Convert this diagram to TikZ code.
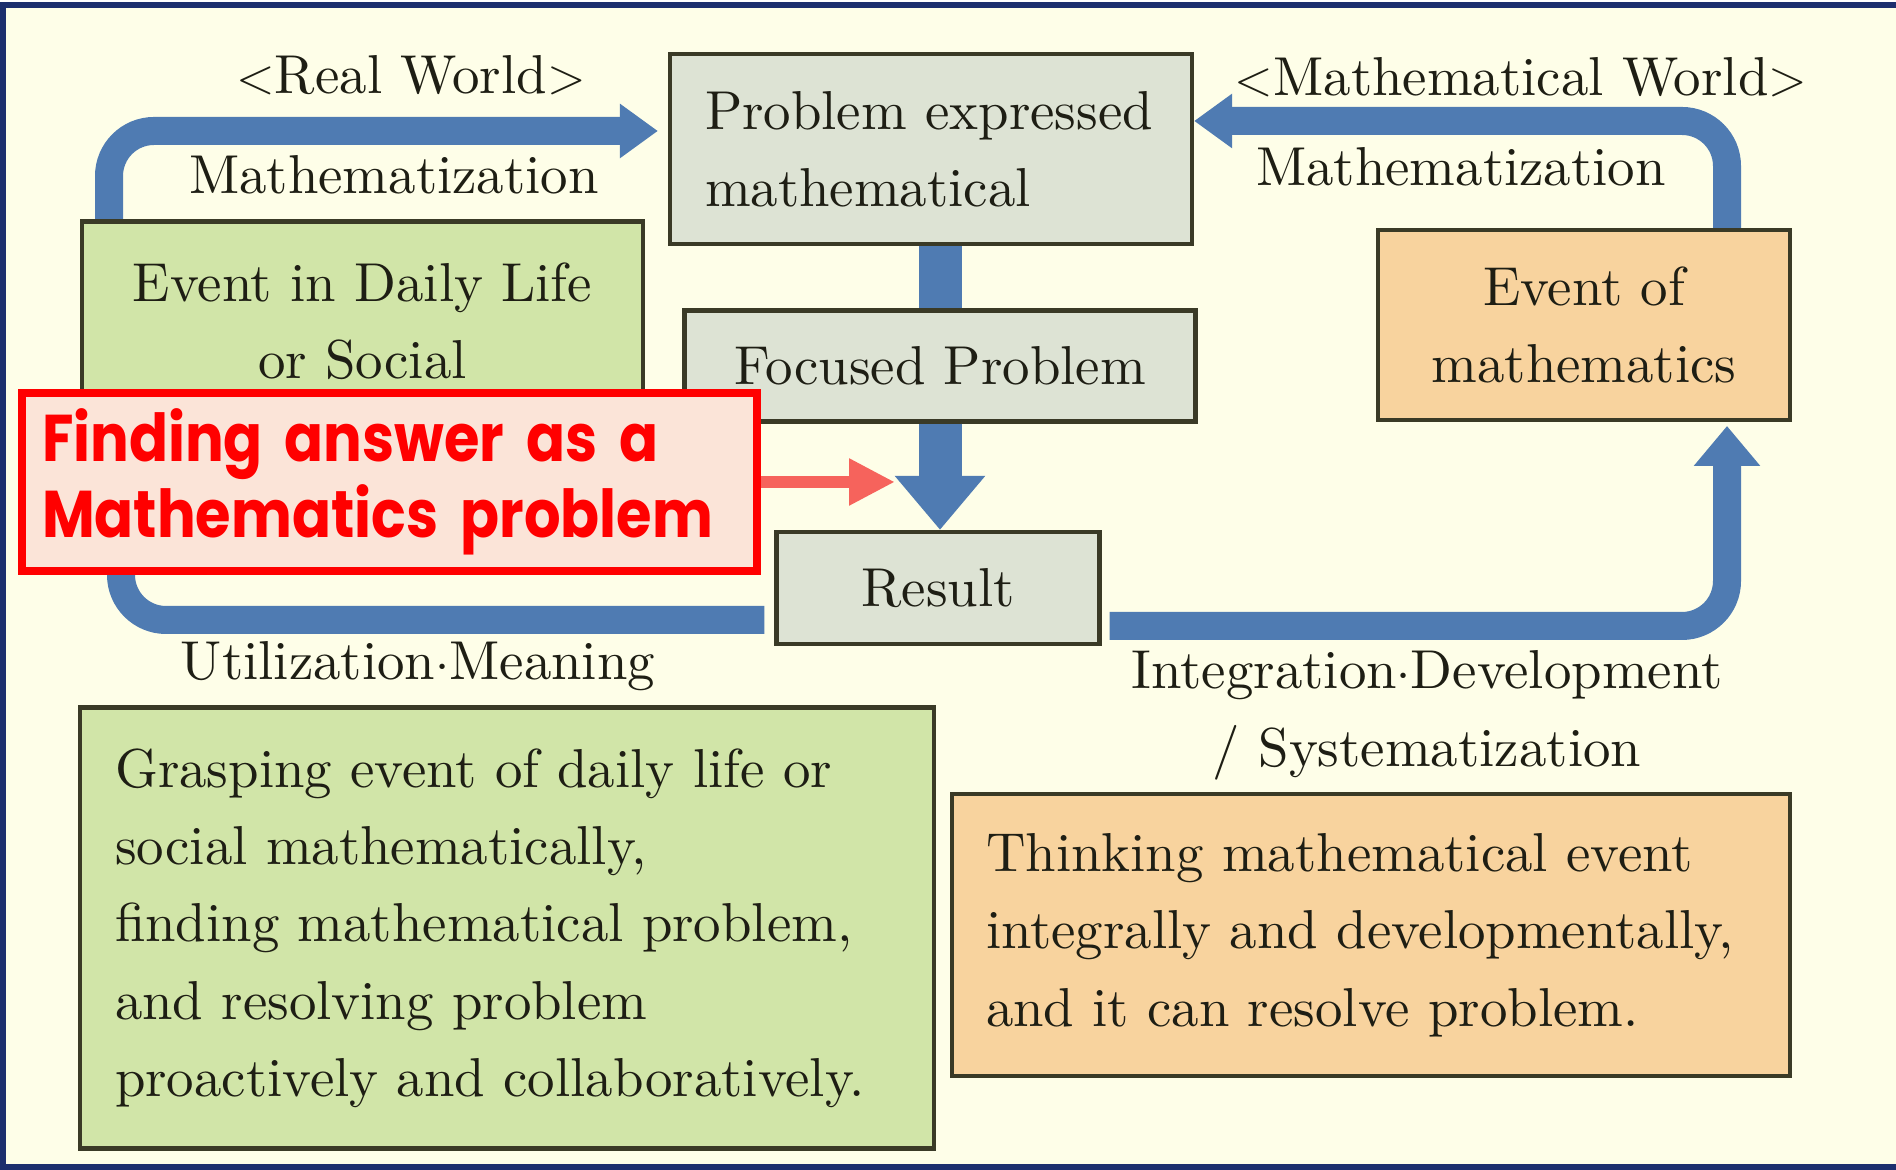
\documentclass[tikz,border=0pt]{standalone}
\usepackage{fontspec}
\usetikzlibrary{arrows.meta}

\setmainfont{lmroman10-regular.otf}
\newfontfamily\alertfont{Poppins}[FakeStretch=0.87]
\newcommand\txtsize{\fontsize{15.6}{22}\selectfont}

\definecolor{cream}{HTML}{FEFEE8}
\definecolor{frame}{HTML}{1C2F6E}
\definecolor{boxline}{HTML}{3A3A26}
\definecolor{ink}{HTML}{1E1E14}
\definecolor{mathgrey}{HTML}{DDE3D4}
\definecolor{daygreen}{HTML}{D1E5A8}
\definecolor{matheven}{HTML}{F8D39E}
\definecolor{flowblue}{HTML}{4F7BB2}
\definecolor{alertred}{HTML}{FF0000}
\definecolor{alertfill}{HTML}{FBE4D8}
\definecolor{pointer}{HTML}{F6635C}

\tikzset{
	every node/.style={font=\txtsize, text=ink},
	box/.style={draw=boxline, line width=1.2pt, inner sep=0pt},
	flow/.style={draw=flowblue, line width=0.28cm, rounded corners=0.45cm},
	bar/.style={draw=flowblue, line width=0.43cm},
	alertbox/.style={draw=alertred, line width=2.4pt, fill=alertfill, inner sep=0pt,
		font=\alertfont\bfseries\fontsize{18.8}{21.6}\selectfont, text=alertred}
}

\begin{document}
\begin{tikzpicture}
	\useasboundingbox (0,0) rectangle (18.96,11.70);
	\fill[cream] (0.03,0.03) rectangle (18.96,11.65);
	\draw[frame, line width=1.6pt] (18.96,11.65) -- (0.03,11.65) -- (0.03,0.03) -- (18.96,0.03);

	\coordinate (tl) at (1.09,10.39);
	\coordinate (tr) at (17.27,10.49);
	\coordinate (bl) at (1.21,5.50);
	\coordinate (br) at (17.27,5.44);
	\coordinate (hit) at (8.95,6.88);

	\node[box, fill=mathgrey, minimum width=5.22cm, minimum height=1.90cm, text width=4.52cm, align=left] (problem) at (9.31,10.21) {Problem expressed\\mathematical};
	\node[box, fill=mathgrey, minimum width=5.11cm, minimum height=1.11cm] (focus) at (9.40,8.04) {Focused Problem};
	\node[box, fill=mathgrey, minimum width=3.23cm, minimum height=1.12cm] (result) at (9.38,5.82) {Result};

	% loops around the centre column
	\draw[flow, -{Triangle[length=0.38cm,width=0.52cm]}] (tl |- 0,9.45) -- (tl) -- ([xshift=-0.1cm]tl -| problem.west);
	\draw[flow, -{Triangle[length=0.38cm,width=0.52cm]}] (tr |- 0,9.40) -- (tr) -- (tr -| problem.east);
	\draw[flow] ([xshift=-0.1cm]result.west |- bl) -- (bl) -- (bl |- 0,7.0);
	\draw[flow, -{Triangle[length=0.40cm,width=0.64cm]}] ([xshift=0.08cm]result.east |- br) -- (br) -- (br |- 0,7.44);

	\draw[bar] (focus.north |- problem.south) -- (focus.north);
	\draw[bar, -{Triangle[length=0.54cm,width=0.87cm]}] (focus.south) -- (focus.south |- result.north);

	\node[box, fill=daygreen, minimum width=5.61cm, minimum height=1.99cm, align=center] (daily) at (3.625,8.49) {Event in Daily Life\\or Social};
	\node[box, fill=matheven, minimum width=4.12cm, minimum height=1.90cm, align=center] (mathev) at (15.84,8.45) {Event of\\mathematics};
	\node[box, fill=daygreen, minimum width=8.54cm, minimum height=4.41cm, text width=7.84cm, align=left] (grasp) at (5.07,2.42) {Grasping event of daily life or\\social mathematically,\\finding mathematical problem,\\and resolving problem\\proactively and collaboratively.};
	\node[box, fill=matheven, minimum width=8.38cm, minimum height=2.82cm, text width=7.70cm, align=left] (think) at (13.71,2.35) {Thinking mathematical event\\integrally and developmentally,\\and it can resolve problem.};

	\node (realw) at (4.11,10.95) {$<$Real World$>$};
	\node (mathl) at (3.94,9.95) {Mathematization};
	\node (mathw) at (15.21,10.93) {$<$Mathematical World$>$};
	\node (mathr) at (14.61,10.03) {Mathematization};
	\node (util) at (4.18,5.04) {Utilization$\cdot$Meaning};
	\node (integ) at (14.27,4.95) {Integration$\cdot$Development};
	\node (syst) at (14.27,4.17) {/ Systematization};

	\node[alertbox, minimum width=7.35cm, minimum height=1.78cm, text width=6.95cm, align=left] (alert) at (3.895,6.88) {Finding answer as a\\Mathematics problem};
	\draw[pointer, line width=0.12cm, -{Triangle[length=0.46cm,width=0.44cm]}] (alert.east) -- (hit);
\end{tikzpicture}
\end{document}
